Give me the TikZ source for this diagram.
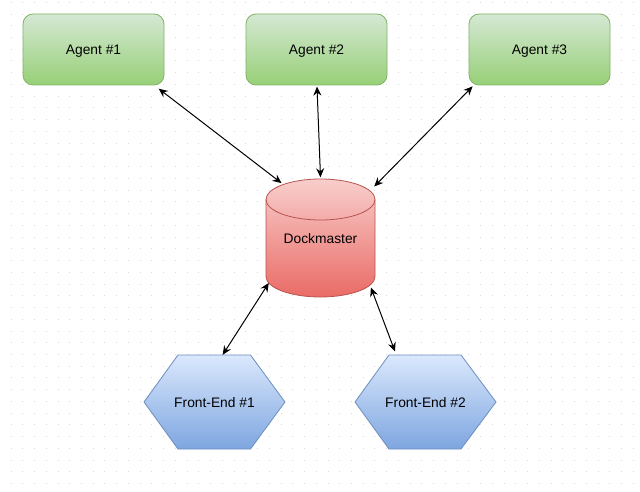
\documentclass[tikz,border=0pt]{standalone}
\usepackage{fontspec}
\setmainfont{Liberation Sans}
\usetikzlibrary{arrows.meta}
\definecolor{grT}{HTML}{D5E8D4}
\definecolor{grB}{HTML}{97D077}
\definecolor{grL}{HTML}{82B366}
\definecolor{rdT}{HTML}{F8CECC}
\definecolor{rdB}{HTML}{EA6B66}
\definecolor{rdL}{HTML}{B85450}
\definecolor{blT}{HTML}{DAE8FC}
\definecolor{blB}{HTML}{7EA6E0}
\definecolor{blL}{HTML}{6C8EBF}
\definecolor{dotc}{HTML}{DADADA}
\begin{document}
\begin{tikzpicture}[x=1pt,y=1pt,
  txt/.style={font=\fontsize{13.8}{16}\selectfont, text=black, text depth=0pt},
  agent/.style={txt, rectangle, rounded corners=10pt, draw=grL, line width=0.8pt,
     top color=grT, bottom color=grB, minimum width=141pt, minimum height=71pt, inner sep=0pt},
  holder/.style={txt, rectangle, inner sep=0pt},
  cylsty/.style={draw=rdL, line width=0.8pt, top color=rdT, bottom color=rdB},
  hexsty/.style={draw=blL, line width=0.8pt, top color=blT, bottom color=blB},
  link/.style={{Stealth[length=9pt,width=8pt,inset=3pt]}-{Stealth[length=9pt,width=8pt,inset=3pt]}, line width=1pt, black}]
\useasboundingbox (0,0) rectangle (640,-492);
\fill[white] (0,0) rectangle (640,-492);
% grid dots
\foreach \i in {1,...,54}{
  \foreach \j in {0,...,41}{
    \fill[dotc] ({-0.7+11.74*\i-0.5},{-(2.3+11.74*\j)-0.5}) rectangle +(1,1);
  }
}
% agents
\node[agent] (a1) at (93.5,-49.5) {Agent \#1};
\node[agent] (a2) at (316.5,-49.5) {Agent \#2};
\node[agent] (a3) at (539.5,-49.5) {Agent \#3};
% cylinder
\path[cylsty] (266,-199.5) -- (266,-276.5) arc (180:360:54.5pt and 20.5pt)
   -- (375,-199.5) arc (0:180:54.5pt and 20.5pt) -- cycle;
\draw[rdL, line width=0.8pt] (266,-199.5) arc (180:360:54.5pt and 20.5pt);
\node[holder, minimum width=109pt, minimum height=118pt] (dm) at (320.5,-238) {Dockmaster};
% hexagons
\path[hexsty] (144,-402) -- (178,-355) -- (250.5,-355) -- (285,-402) -- (250.5,-449) -- (178,-449) -- cycle;
\node[holder, minimum width=141pt, minimum height=94pt] (f1) at (214.5,-402) {Front-End \#1};
\path[hexsty] (355,-402) -- (389,-355) -- (461,-355) -- (496,-402) -- (461,-449) -- (389,-449) -- cycle;
\node[holder, minimum width=141pt, minimum height=94pt] (f2) at (425.5,-402) {Front-End \#2};
% connectors
\draw[link] ([shift={(-5.7,-3.3)}]a1.south east) -- ([shift={(15.7,-4.3)}]dm.north west);
\draw[link] ([shift={(0.5,-1.2)}]a2.south) -- ([shift={(0,1.5)}]dm.north);
\draw[link] ([shift={(4,-1)}]a3.south west) -- ([shift={(-1,-7.7)}]dm.north east);
\draw[link] ([shift={(3,14.3)}]dm.south west) -- ([shift={(8.2,0)}]f1.north);
\draw[link] ([shift={(-4.3,9.7)}]dm.south east) -- ([shift={(-30.5,3.3)}]f2.north);
\end{tikzpicture}
\end{document}
